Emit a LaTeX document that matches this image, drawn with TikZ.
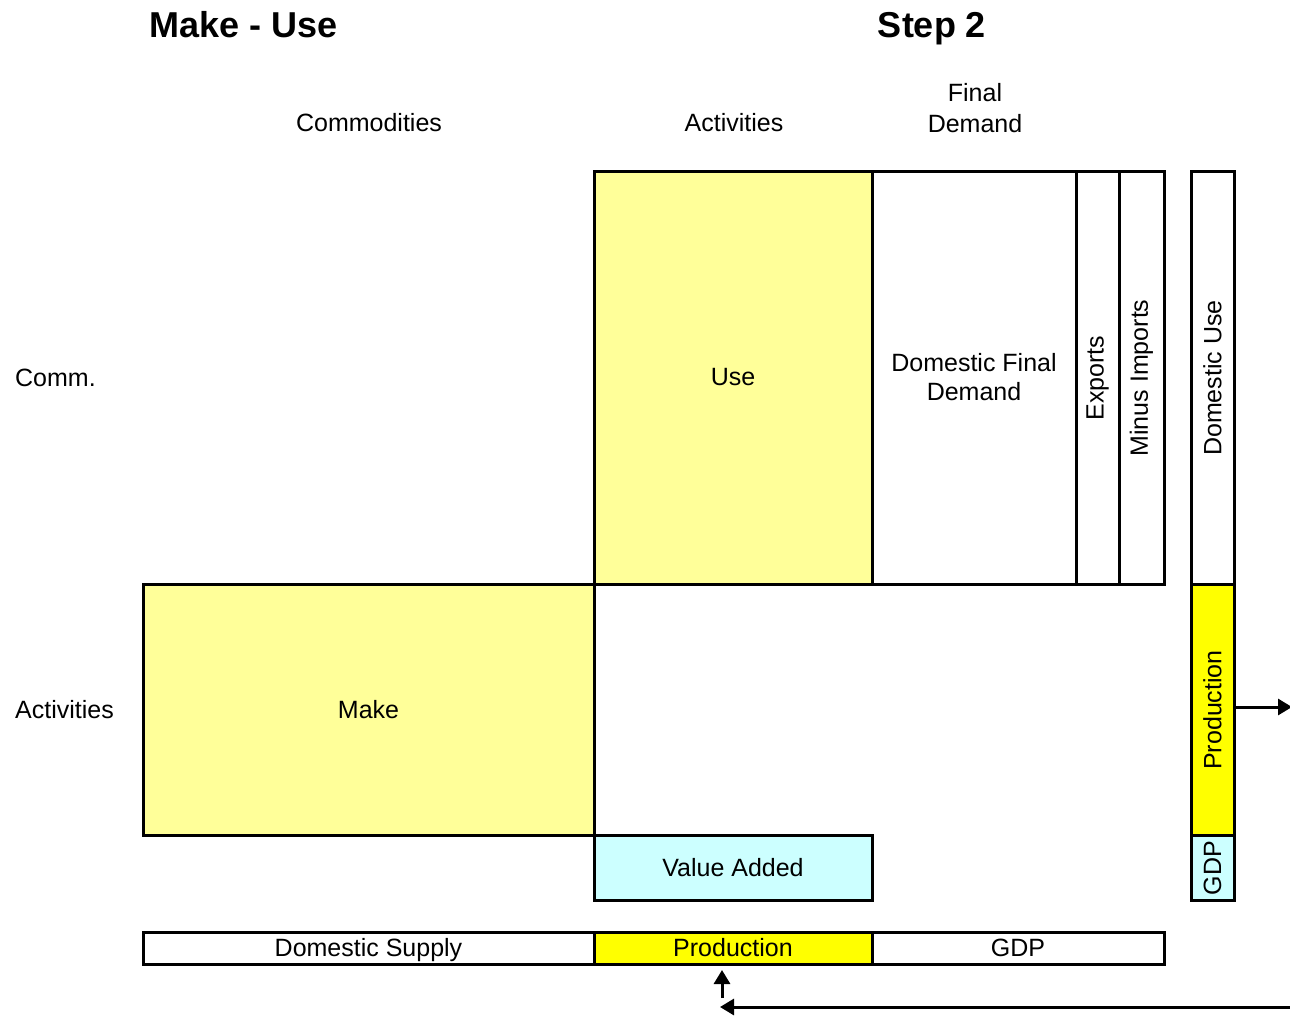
\documentclass[tikz,border=0pt]{standalone}
\usepackage{fontspec}
\setmainfont{Liberation Sans}
\usetikzlibrary{arrows.meta}
\definecolor{lyel}{HTML}{FFFF99}
\definecolor{yel}{HTML}{FFFF00}
\definecolor{lcyan}{HTML}{CCFFFF}
\begin{document}
\begin{tikzpicture}[x=1pt,y=-1pt,
  cell/.style={draw, line width=3pt, inner sep=0pt, outer sep=0pt, font=\fontsize{25}{29}\selectfont, align=center},
  bar/.style={cell, text height=20pt, text depth=3pt},
  lbl/.style={inner sep=0pt, font=\fontsize{25}{31}\selectfont, align=center},
  ttl/.style={inner sep=0pt, anchor=base, font=\fontsize{36}{40}\selectfont\bfseries},
  conn/.style={line width=3pt, -{Triangle[length=14pt,width=16pt]}}]
\useasboundingbox (0,0) rectangle (1290,1015);
% titles
\node[ttl] (t1) at (244,37) {Make - Use};
\node[ttl] (t2) at (932,37) {Step 2};
% column headers
\node[lbl] (hcom) at (369,123) {Commodities};
\node[lbl] (hact) at (734,123) {Activities};
\node[lbl] (hfd) at (975,108) {Final\\Demand};
% row headers
\node[lbl, anchor=west] (rcom) at (15,378) {Comm.};
\node[lbl, anchor=west] (ract) at (15,710) {Activities};
% Use block
\node[cell, fill=lyel, minimum width=278pt, minimum height=413pt] (use) at (733,377.5) {Use};
\node[cell, minimum width=204pt, minimum height=413pt] (dfd) at (974,377.5) {Domestic Final\\Demand};
\node[cell, minimum width=43pt, minimum height=413pt] (exp) at (1097.5,377.5) {};
\node[lbl, rotate=90] (expt) at (1097.5,378) {Exports};
\node[cell, minimum width=45pt, minimum height=413pt] (imp) at (1141.5,377.5) {};
\node[lbl, rotate=90] (impt) at (1141.5,378) {Minus Imports};
% right column
\node[cell, minimum width=43pt, minimum height=413pt] (du) at (1212.5,377.5) {};
\node[lbl, rotate=90] (dut) at (1212.5,378) {Domestic Use};
\node[cell, fill=yel, minimum width=43pt, minimum height=251pt] (prodcol) at (1212.5,709.5) {};
\node[lbl, rotate=90] (prodcolt) at (1212.5,710) {Production};
\node[cell, fill=lcyan, minimum width=43pt, minimum height=65pt] (gdpcol) at (1212.5,867.5) {};
\node[lbl, rotate=90] (gdpcolt) at (1212.5,868) {GDP};
% Make block
\node[cell, fill=lyel, minimum width=451pt, minimum height=251pt] (make) at (368.5,709.5) {Make};
\node[cell, fill=lcyan, minimum width=278pt, minimum height=65pt] (va) at (733,867.5) {Value Added};
% bottom bar
\node[bar, minimum width=451pt, minimum height=32pt] (dsup) at (368.5,948) {Domestic Supply};
\node[bar, fill=yel, minimum width=278pt, minimum height=32pt] (prodbar) at (733,948) {Production};
\node[bar, minimum width=292pt, minimum height=32pt] (gdpbar) at (1018,948) {GDP};
% connectors
\coordinate (rend) at (1292,707);
\coordinate (bstart) at (1290,1007);
\coordinate (bend) at (720,1007);
\coordinate (ubot) at (722,998);
\draw[conn] (prodcol.east |- rend) -- (rend);
\draw[conn] (bstart) -- (bend);
\draw[conn] (ubot) -- (722,970);
\end{tikzpicture}
\end{document}
